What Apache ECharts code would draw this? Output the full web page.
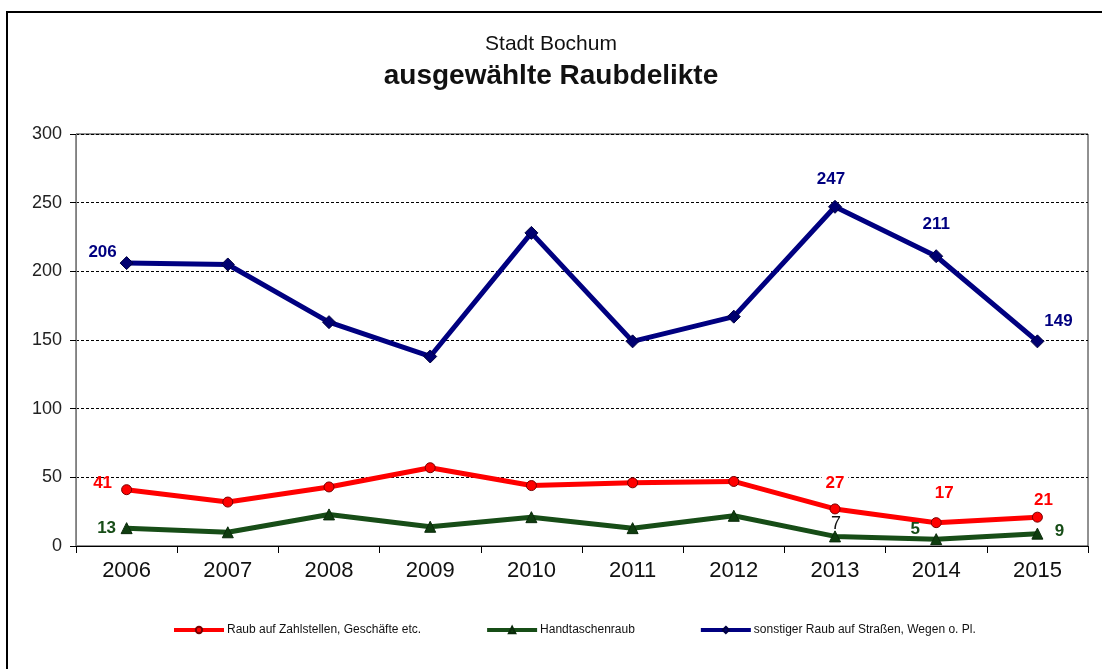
<!DOCTYPE html>
<html>
<head>
<meta charset="utf-8">
<script src="https://cdn.jsdelivr.net/npm/echarts@6/dist/echarts.min.js"></script>
<style>
html,body{margin:0;padding:0;background:#fff;}
#chart{width:1102px;height:669px;}
</style>
</head>
<body>
<div id="chart"></div>
<script>
const categories = ['2006','2007','2008','2009','2010','2011','2012','2013','2014','2015'];
const raubZahlstellen = [41, 32, 43, 57, 44, 46, 47, 27, 17, 21];
const handtaschenraub = [13, 10, 23, 14, 21, 13, 22, 7, 5, 9];
const sonstigerRaub = [206, 205, 163, 138, 228, 149, 167, 247, 211, 149];
const seriesNames = ['Raub auf Zahlstellen, Geschäfte etc.', 'Handtaschenraub', 'sonstiger Raub auf Straßen, Wegen o. Pl.'];
const yMin = 0, yMax = 300, yStep = 50;

const FONT = 'Arial, "Liberation Sans", sans-serif';

// label placement (style only): index -> [dx, dy]
const redLabels = {0: [-24, -6], 7: [0, -26], 8: [8, -29], 9: [6, -17]};
const greenLabels = {0: [-20, 0], 7: [1, -12], 8: [-21, -10], 9: [22, -2]};
const blueLabels = {0: [-24, -11], 7: [-4, -27], 8: [0, -32], 9: [21, -20]};

function buildData(values, labels, color, special) {
  return values.map(function (v, i) {
    const item = {value: v};
    if (labels[i]) {
      const lab = {
        show: true, position: 'inside', offset: labels[i],
        color: color, fontFamily: FONT, fontSize: 17, fontWeight: 'bold'
      };
      if (special && special[i]) Object.assign(lab, special[i]);
      item.label = lab;
    }
    return item;
  });
}

const chart = echarts.init(document.getElementById('chart'), null, {renderer: 'canvas'});
chart.setOption({
  backgroundColor: '#fff',
  animation: false,
  graphic: [{
    type: 'rect', z: -10,
    shape: {x: 7, y: 12, width: 1300, height: 900},
    style: {fill: 'none', stroke: '#000', lineWidth: 2}
  }],
  title: [
    {text: 'Stadt Bochum', left: 'center', top: 29,
     textStyle: {fontFamily: FONT, fontSize: 21, fontWeight: 'normal', color: '#111'}},
    {text: 'ausgewählte Raubdelikte', left: 'center', top: 57,
     textStyle: {fontFamily: FONT, fontSize: 28, fontWeight: 'bold', color: '#111'}}
  ],
  legend: {
    left: 167, top: 619,
    itemWidth: 50, itemHeight: 8, itemGap: 64,
    lineStyle: {width: 4},
    textStyle: {fontFamily: FONT, fontSize: 12, color: '#111', padding: [0,0,0,-2]},
    data: seriesNames
  },
  grid: {
    left: 76, right: 14, top: 134, bottom: 123,
    show: true, borderColor: '#222', borderWidth: 1, containLabel: false
  },
  xAxis: {
    type: 'category', data: categories, boundaryGap: true,
    axisLine: {lineStyle: {color: '#000', width: 1}},
    axisTick: {show: true, length: 7, lineStyle: {color: '#000'}},
    axisLabel: {margin: 14, fontFamily: FONT, fontSize: 22, color: '#111'}
  },
  yAxis: {
    type: 'value', min: yMin, max: yMax, interval: yStep,
    axisLine: {show: true, lineStyle: {color: '#808080', width: 1}},
    axisTick: {show: true, length: 6, lineStyle: {color: '#000'}},
    axisLabel: {margin: 14, fontFamily: FONT, fontSize: 18, color: '#222'},
    splitLine: {show: true, lineStyle: {color: '#000', type: [3, 2], width: 1}}
  },
  series: [
    {
      name: seriesNames[0], type: 'line', z: 3,
      data: buildData(raubZahlstellen, redLabels, '#ff0000', {7: {backgroundColor: '#fff', padding: [1, 4]}}),
      symbol: 'circle', symbolSize: 10,
      lineStyle: {color: '#ff0000', width: 5},
      itemStyle: {color: '#ff0000', borderColor: '#7a0000', borderWidth: 1}
    },
    {
      name: seriesNames[1], type: 'line', z: 3,
      data: buildData(handtaschenraub, greenLabels, '#174d17', {7: {color: '#111', fontWeight: 'normal', fontSize: 18}}),
      symbol: 'triangle', symbolSize: 11,
      lineStyle: {color: '#174d17', width: 5},
      itemStyle: {color: '#0f3d0f', borderColor: '#0a2a0a', borderWidth: 1}
    },
    {
      name: seriesNames[2], type: 'line', z: 3,
      data: buildData(sonstigerRaub, blueLabels, '#000080'),
      symbol: 'diamond', symbolSize: 13,
      lineStyle: {color: '#000080', width: 5},
      itemStyle: {color: '#000070', borderColor: '#000040', borderWidth: 1}
    }
  ]
});
</script>
</body>
</html>
